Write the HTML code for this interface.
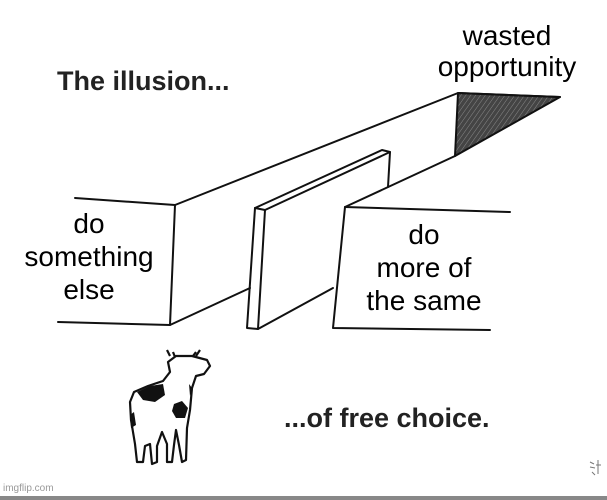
<!DOCTYPE html>
<html><head><style>
html,body{margin:0;padding:0;background:#fff;}
body{width:607px;height:500px;position:relative;overflow:hidden;font-family:"Liberation Sans",sans-serif;}
.t{position:absolute;text-align:center;color:#000;font-size:28px;line-height:32px;white-space:nowrap;}
</style></head><body>
<svg width="607" height="500" style="position:absolute;left:0;top:0" viewBox="0 0 607 500">
<defs>
<pattern id="h" width="4" height="4" patternUnits="userSpaceOnUse" patternTransform="rotate(35)">
<rect width="4" height="4" fill="#444"/><line x1="0" y1="0" x2="0" y2="4" stroke="#888" stroke-width="1"/>
</pattern>
</defs>
<g fill="none" stroke="#111" stroke-width="2" stroke-linecap="round" stroke-linejoin="round">
<polygon points="458,93 560,97 455,156" fill="url(#h)"/>
<path d="M75,198 L175,205 L170,325 L58,322"/>
<path d="M175,205 L458,93 L560,97"/>
<path d="M170,325 L250,288"/>
<path d="M345,207 L510,212"/>
<path d="M345,207 L333,328 L490,330"/>
<path d="M345,207 L455,156"/>
<path d="M255,208 L382,150 L390,152 L388,187"/>
<path d="M255,208 L265,210 L390,152"/>
<path d="M255,208 L247,328 L258,329 L265,210"/>
<path d="M258,329 L333,288"/>
</g>
<g stroke="#111" stroke-width="2.2" fill="#fff" stroke-linejoin="round">
<path d="M170,356 L167,350 M175,357 L173,352 M196,356 L200,350 M193,356 L196,352" fill="none"/>
<path d="M168,362 L176,356 L192,356 L207,360 L210,366 L204,374 L196,376 L192,388 L190,410 L187,428 L186,460 L182,462 L179,445 L176,430 L174,445 L172,462 L167,462 L167,444 L162,432 L157,446 L157,462 L152,464 L150,444 L145,446 L143,462 L137,462 L135,444 L131,420 L130,402 L134,392 L148,386 L163,381 L170,372 Z"/>
</g>
<g fill="#111">
<path d="M137,392 L150,386 L163,384 L165,395 L155,402 L143,400 Z"/>
<path d="M174,404 L182,401 L188,408 L185,418 L176,418 L172,411 Z"/>
<path d="M130,415 L134,412 L136,425 L131,428 Z"/>
<path d="M189,384 L192,388 L190,396 Z"/>
</g>
<path d="M590,462 l4,2 M590,467 l5,1 M592,472 l3,3 M598,460 l0,14 M596,465 l5,0" stroke="#777" stroke-width="1" fill="none"/>
<rect x="0" y="496" width="607" height="4" fill="#888"/>
</svg>
<div class="t" style="left:57px;top:66px;font-size:27px;line-height:30px;font-weight:bold;color:#222">The illusion...</div>
<div class="t" style="left:427px;top:20px;width:160px;line-height:31px;">wasted<br>opportunity</div>
<div class="t" style="left:14px;top:207px;width:150px;line-height:33px;background:#fff">do<br>something<br>else</div>
<div class="t" style="left:349px;top:218px;width:150px;line-height:33px;">do<br>more of<br>the same</div>
<div class="t" style="left:284px;top:403px;font-size:27px;line-height:30px;font-weight:bold;color:#222">...of free choice.</div>
<div class="t" style="left:3px;top:483px;font-size:10px;line-height:12px;color:#999">imgflip.com</div>
</body></html>
